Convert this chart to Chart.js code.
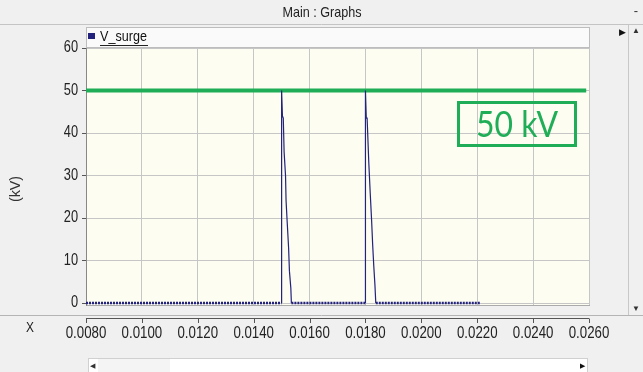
<!DOCTYPE html>
<html>
<head>
<meta charset="utf-8">
<script src="https://cdn.jsdelivr.net/npm/chart.js@4"></script>
<style>
  html, body { margin: 0; padding: 0; background: #f0f0f0; }
  #wrap { width: 643px; height: 372px; position: relative; }
</style>
</head>
<body>
<div id="wrap"><canvas id="myChart" width="643" height="372"></canvas></div>
<script>
'use strict';

// V surge trace (time in s, voltage in kV)
const surgeT = [0.0080, 0.01500, 0.01500, 0.01503, 0.01506, 0.01509, 0.01514, 0.01516, 0.01520, 0.01525, 0.01528, 0.01533, 0.01535,
	0.01800, 0.01800, 0.01803, 0.01806, 0.01812, 0.01817, 0.01822, 0.01826, 0.01830, 0.01834, 0.01837, 0.0221];
const surgeV = [0, 0, 50, 44, 43.5, 35.5, 30, 24, 19, 13, 7.5, 3.5, 0,
	0, 50, 43.5, 43.5, 33, 26, 19.5, 13.5, 8.5, 4.2, 0, 0];

// 50 kV reference line
const refT = [0.0080, 0.0259];
const refV = [50, 50];
const refLabel = '50 kV';

const xTicks = [0.008, 0.010, 0.012, 0.014, 0.016, 0.018, 0.020, 0.022, 0.024, 0.026];
const yTicks = [0, 10, 20, 30, 40, 50, 60];

const sans = "'Liberation Sans', Arial, sans-serif";
const navy = '#23237e';
const green = '#1fae57';

// narrow look: the original uses a condensed face, so squeeze with maxWidth
function text(c, s, x, y, font, color, align, squeeze) {
	c.font = font;
	c.fillStyle = color;
	c.textAlign = align || 'center';
	c.textBaseline = 'middle';
	if (squeeze) c.fillText(s, x, y, c.measureText(s).width * squeeze); else c.fillText(s, x, y);
}

const chrome = {
	id: 'chrome',
	beforeDraw(chart) {
		const c = chart.ctx;
		const a = chart.chartArea;
		c.save();
		c.fillStyle = '#f0f0f0';
		c.fillRect(0, 0, chart.width, chart.height);
		c.fillStyle = '#fdfdf1';
		c.fillRect(a.left, a.top, a.right - a.left, a.bottom - a.top);
		c.restore();
	},
	afterDraw(chart) {
		const c = chart.ctx;
		const a = chart.chartArea;
		const xs = chart.scales.x;
		const ys = chart.scales.y;
		c.save();

		// title bar
		text(c, 'Main : Graphs', 322, 13, '15px ' + sans, '#222', 'center', 0.84);
		text(c, '-', 636, 11, '13px ' + sans, '#333');
		c.strokeStyle = '#c4c4c4';
		c.lineWidth = 1;
		c.beginPath();
		c.moveTo(0, 24.5); c.lineTo(643, 24.5);
		c.stroke();

		// legend strip
		c.fillStyle = '#fafafa';
		c.fillRect(86, 27, 504, 20);
		c.strokeStyle = '#bdbdbd';
		c.strokeRect(86.5, 27.5, 503, 20);
		c.fillStyle = navy;
		c.fillRect(88, 33, 7, 6);
		text(c, 'V_surge', 100, 37, '15px ' + sans, '#111', 'left', 0.84);
		c.strokeStyle = '#222';
		c.beginPath();
		c.moveTo(100, 45.5); c.lineTo(148, 45.5);
		c.stroke();

		// y tick labels and title
		yTicks.forEach(v => {
			text(c, String(v), 78, ys.getPixelForValue(v), '16px ' + sans, '#222', 'right', 0.8);
		});
		c.save();
		c.translate(16, 189);
		c.rotate(-Math.PI / 2);
		text(c, '(kV)', 0, 0, '15px ' + sans, '#333', 'center', 0.95);
		c.restore();

		// right scroll strip
		c.strokeStyle = '#c8c8c8';
		c.beginPath();
		c.moveTo(628.5, 25); c.lineTo(628.5, 316);
		c.stroke();
		text(c, '\u25B2', 636, 31, '8px sans-serif', '#333');
		text(c, '\u25BC', 636, 309, '8px sans-serif', '#333');
		text(c, '\u25B6', 622, 33, '9px sans-serif', '#111');

		// separator and x axis
		c.strokeStyle = '#b4b4b4';
		c.beginPath();
		c.moveTo(0, 315.5); c.lineTo(643, 315.5);
		c.stroke();
		c.strokeStyle = '#555';
		c.beginPath();
		c.moveTo(a.left, 318.5); c.lineTo(a.right, 318.5);
		xTicks.forEach(v => {
			const px = Math.round(xs.getPixelForValue(v)) + 0.5;
			c.moveTo(px, 318.5); c.lineTo(px, 323);
		});
		c.stroke();
		xTicks.forEach(v => {
			text(c, v.toFixed(4), xs.getPixelForValue(v), 333, '17px ' + sans, '#222', 'center', 0.78);
		});
		text(c, 'X', 30, 328, '14px ' + sans, '#222', 'center', 0.85);

		// bottom scroll bar
		c.fillStyle = '#ffffff';
		c.fillRect(88, 358, 500, 14);
		c.fillStyle = '#f4f4f4';
		c.fillRect(98, 359, 72, 13);
		c.strokeStyle = '#d0d0d0';
		c.strokeRect(88.5, 358.5, 499, 14);
		text(c, '\u25C0', 92, 366, '7px sans-serif', '#333');
		text(c, '\u25B6', 582, 366, '7px sans-serif', '#111');

		// 50 kV box
		c.strokeStyle = green;
		c.lineWidth = 3;
		c.strokeRect(458.5, 102.5, 117, 43);
		c.font = '36px Lato, "Open Sans", sans-serif';
		c.fillStyle = green;
		c.textAlign = 'center';
		c.textBaseline = 'middle';
		c.fillText(refLabel, 517, 125, 82);
		c.restore();
	}
};

const ctx = document.getElementById('myChart');

new Chart(ctx, {
	type: 'line',
	data: {
		datasets: [{
			label: 'V_surge',
			data: surgeT.map((t, i) => ({ x: t, y: surgeV[i] })),
			borderColor: navy,
			borderWidth: 1.2,
			pointRadius: 0,
			tension: 0,
			segment: {
				borderDash: s => (s.p0.parsed.y === 0 && s.p1.parsed.y === 0 ? [2, 1] : undefined),
				borderWidth: s => (s.p0.parsed.y === 0 && s.p1.parsed.y === 0 ? 2.5 : undefined),
			},
		}, {
			label: refLabel,
			data: refT.map((t, i) => ({ x: t, y: refV[i] })),
			borderColor: green,
			borderWidth: 4,
			pointRadius: 0,
		}]
	},
	options: {
		responsive: false,
		animation: false,
		layout: { padding: { top: 47, right: 54, left: 0, bottom: 0 } },
		plugins: { legend: { display: false }, title: { display: false }, tooltip: { enabled: false } },
		scales: {
			x: {
				type: 'linear',
				min: 0.008,
				max: 0.026,
				afterBuildTicks: s => { s.ticks = xTicks.map(v => ({ value: v })); },
				afterFit: s => { s.height = 67; },
				grid: { color: '#c6c6c6', drawTicks: false },
				border: { color: '#aaaaaa' },
				ticks: { display: false },
			},
			y: {
				min: -0.47,
				max: 60.24,
				afterBuildTicks: s => { s.ticks = yTicks.map(v => ({ value: v })); },
				afterFit: s => { s.width = 86; },
				grid: { color: '#c6c6c6', tickLength: 4, tickColor: '#555' },
				border: { color: '#888888' },
				ticks: { display: false },
			},
		},
	},
	plugins: [chrome],
});
</script>
</body>
</html>
